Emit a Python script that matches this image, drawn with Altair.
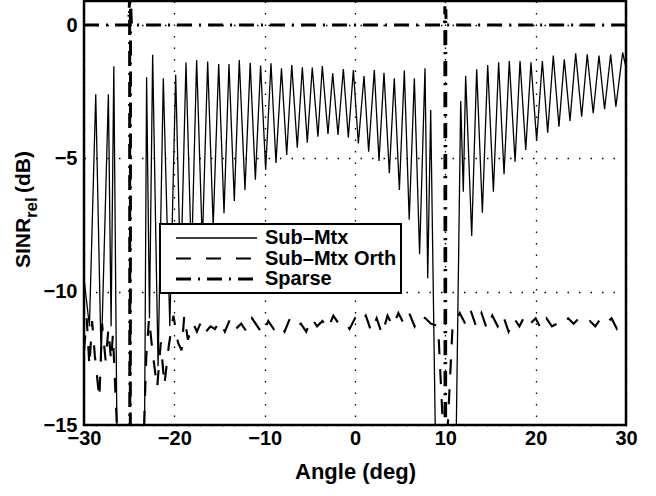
import altair as alt
import pandas as pd

# ---------------- data ----------------
submtx_angle = [-30.0, -29.4, -28.7, -28.1, -27.3, -27.0, -26.7, -26.35, -24.9, -23.3,
                -23.07, -22.75, -22.4, -21.8, -21.22, -20.5, -19.85, -19.3, -18.71, -18.1,
                -17.53, -16.9, -16.31, -15.7, -15.09, -14.5, -13.95, -13.36, -12.81, -12.18,
                -11.6, -11.03, -10.45, -9.89, -9.3, -8.75, -8.14, -7.56, -7.0, -6.39,
                -5.83, -5.28, -4.73, -4.1, -3.62, -2.99, -2.47, -1.88, -1.29, -0.74,
                -0.18, 0.37, 1.0, 1.51, 2.14, 2.66, 3.21, 3.8, 4.35, 4.91,
                5.46, 6.0, 6.57, 7.15, 7.75, 8.05, 8.38, 8.9, 10.0, 11.2,
                11.7, 11.99, 12.25, 12.92, 13.47, 14.1, 14.69, 15.32, 15.9, 16.5,
                17.08, 17.72, 18.27, 18.9, 19.48, 20.11, 20.74, 21.33, 21.95, 22.58,
                23.17, 23.8, 24.43, 25.09, 25.71, 26.37, 27.01, 27.63, 28.3, 28.88,
                29.63, 30.0]
submtx_db = [-9.5, -11.3, -2.6, -12.6, -2.6, -11.3, -1.55, -15.5, -40.0, -15.5,
             -1.96, -11.0, -1.12, -12.8, -2.0, -11.3, -1.87, -9.6, -1.41, -8.9,
             -1.31, -8.2, -1.37, -7.55, -1.46, -7.06, -1.46, -6.6, -1.31, -6.19,
             -1.42, -5.8, -1.52, -5.43, -1.44, -5.17, -1.62, -4.87, -1.5, -4.6,
             -1.59, -4.41, -1.6, -4.19, -1.54, -4.09, -1.81, -4.12, -1.65, -4.22,
             -1.69, -4.44, -1.91, -4.75, -1.69, -5.1, -1.79, -5.56, -2.0, -6.19,
             -1.71, -7.3, -2.0, -8.6, -1.62, -9.5, -3.19, -15.5, -40.0, -15.5,
             -2.85, -6.25, -1.9, -7.91, -1.66, -7.04, -1.5, -6.25, -1.4, -5.6,
             -1.35, -5.13, -1.35, -4.69, -1.4, -4.34, -1.35, -4.04, -1.15, -3.81,
             -1.29, -3.6, -1.06, -3.44, -1.1, -3.31, -1.15, -3.16, -1.1, -3.06,
             -1.03, -1.6]

orth_angle = [-30.0, -29.7, -29.4, -29.1, -28.8, -28.3, -28.0, -27.6, -27.3, -27.0,
              -26.8, -26.3, -24.9, -23.4, -23.1, -22.8, -22.4, -21.9, -21.5, -21.1,
              -20.6, -20.1, -19.6, -19.2, -18.9, -18.5, -17.9, -17.5, -17.0, -16.5,
              -16.0, -15.5, -15.0, -14.4, -13.8, -13.2, -12.6, -12.0, -11.4, -10.8,
              -10.2, -9.6, -9.0, -8.4, -7.8, -7.2, -6.6, -6.0, -5.4, -4.8,
              -4.2, -3.6, -3.0, -2.4, -1.8, -1.2, -0.6, 0.0, 0.6, 1.2,
              1.8, 2.4, 3.0, 3.6, 4.2, 4.8, 5.4, 6.0, 6.6, 7.2,
              7.8, 8.4, 9.2, 9.8, 10.0, 10.2, 10.8, 11.6, 12.2, 12.8,
              13.4, 14.0, 14.6, 15.2, 15.8, 16.4, 17.0, 17.6, 18.2, 18.8,
              19.4, 20.0, 20.6, 21.2, 21.8, 22.4, 23.0, 23.6, 24.2, 24.8,
              25.4, 26.0, 26.6, 27.2, 27.8, 28.4, 29.0, 29.6, 30.0]
orth_db = [-12.2, -11.0, -12.8, -11.1, -12.4, -14.0, -11.2, -12.6, -11.4, -12.6,
           -11.6, -15.5, -40.0, -15.5, -12.4, -11.0, -12.3, -13.6, -11.9, -13.5,
           -12.0, -10.9, -11.9, -12.2, -10.9, -11.8, -11.2, -11.5, -11.1, -11.5,
           -11.3, -11.4, -11.1, -11.5, -11.0, -11.4, -11.2, -11.5, -11.0, -11.3,
           -11.6, -11.1, -11.4, -11.2, -11.5, -11.0, -11.3, -11.2, -11.5, -11.0,
           -11.3, -11.1, -11.4, -10.9, -11.2, -11.1, -11.4, -11.0, -11.2, -10.9,
           -11.5, -11.0, -11.6, -10.9, -11.3, -10.8, -11.2, -10.8, -11.3, -10.9,
           -11.0, -11.2, -11.3, -15.5, -40.0, -15.5, -11.3, -10.8, -11.2, -10.7,
           -11.3, -10.8, -11.4, -10.9, -11.3, -10.9, -11.5, -11.0, -11.3, -10.9,
           -11.2, -11.0, -11.4, -11.0, -11.3, -11.2, -11.3, -11.0, -11.2, -11.0,
           -11.2, -11.1, -11.3, -11.0, -11.2, -11.0, -11.4, -11.2, -11.1]

sparse_angle = [-30.0, -25.05, -24.95, -24.9, -24.85, -24.75, 9.9, 9.95, 10.0, 10.05, 10.1, 30.0]
sparse_db = [0.0, 0.0, 1.0, -40.0, 0.9, 0.0, 0.0, 0.7, -40.0, 0.6, 0.0, 0.0]

series_names = ["Sub\u2013Mtx", "Sub\u2013Mtx Orth", "Sparse"]
x_ticks = [-30, -20, -10, 0, 10, 20, 30]
y_ticks = [-15, -10, -5, 0]
title_parts = ["SINR", "rel", "(dB)"]

# ---------------- table ----------------
frames = []
for name, xs, ys in zip(series_names, [submtx_angle, orth_angle, sparse_angle],
                        [submtx_db, orth_db, sparse_db]):
    frames.append(pd.DataFrame({"angle": xs, "db": ys, "series": name,
                                "order": range(len(xs))}))
df = pd.concat(frames, ignore_index=True)

FONT = "Liberation Sans"

lines = alt.Chart(df).mark_line(clip=True, color="black").encode(
    x=alt.X("angle:Q", scale=alt.Scale(domain=[-30, 30], nice=False),
            axis=alt.Axis(values=x_ticks, title="Angle (deg)", format="d")),
    y=alt.Y("db:Q", scale=alt.Scale(domain=[-15, 0.9], nice=False, zero=False),
            axis=alt.Axis(values=y_ticks, title=None, format="d")),
    order="order:Q",
    strokeDash=alt.StrokeDash(
        "series:N",
        scale=alt.Scale(domain=series_names, range=[[1, 0], [15, 15], [15, 7, 2, 7]]),
        legend=alt.Legend(
            orient="none", legendX=76, legendY=223, title=None,
            symbolType="M0.5,0H20.75", symbolSize=64, symbolStrokeColor="black",
            labelOffset=81, padding=4, rowPadding=0.5,
            strokeColor="black", fillColor="white",
            labelFont=FONT, labelFontSize=20, labelFontWeight="bold", labelColor="black",
            labelExpr="datum.label + '    '",
        ),
    ),
    strokeWidth=alt.StrokeWidth(
        "series:N",
        scale=alt.Scale(domain=series_names, range=[1.3, 3, 3]),
        legend=alt.Legend(orient="none", legendX=76, legendY=223, title=None),
    ),
)

tdf = pd.DataFrame({"t": title_parts, "k": [0, 1, 2]})
def title_piece(i, size, xpix, ypix):
    return alt.Chart(tdf).transform_filter(alt.datum.k == i).mark_text(
        angle=270, align="left", baseline="alphabetic", font=FONT,
        fontSize=size, fontWeight="bold", color="black"
    ).encode(text="t:N", x=alt.value(xpix), y=alt.value(ypix))

ytitle = title_piece(0, 21, -54, 267) + title_piece(1, 17, -47, 217) + title_piece(2, 21, -54, 192)

chart = alt.layer(lines, ytitle).properties(
    width=542, height=424,
    background="white",
    autosize=alt.AutoSizeParams(type="none"),
    padding={"left": 84, "top": 1, "right": 30, "bottom": 71},
).configure_view(
    stroke="black", strokeWidth=2.5
).configure_axis(
    domain=False, ticks=False, tickSize=0,
    grid=True, gridColor="black", gridWidth=1.3, gridDash=[1.5, 10], gridOpacity=1,
    labelFont=FONT, labelFontSize=20, labelFontWeight="bold", labelColor="black",
    titleFont=FONT, titleFontSize=22, titleFontWeight="bold", titleColor="black",
    labelFlush=False,
).configure_axisX(
    labelPadding=3, titlePadding=13
).configure_axisY(
    labelPadding=7
).configure_legend(
    strokeWidth=2
)

chart.save("out.html", embed_options={"renderer": "svg", "actions": False})
